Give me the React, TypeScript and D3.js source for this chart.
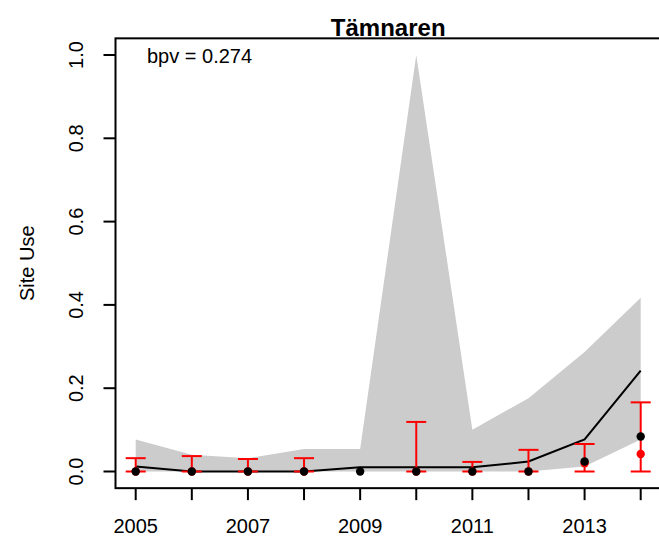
import React from "react";
import * as d3 from "d3";

const years = [2005, 2006, 2007, 2008, 2009, 2010, 2011, 2012, 2013, 2014];
const bandUpper = [0.077, 0.04, 0.032, 0.054, 0.054, 1.0, 0.1, 0.176, 0.287, 0.417];
const bandLower = [0, 0, 0, 0, 0, 0, 0, 0, 0.012, 0.077];
const median = [0.012, 0, 0, 0, 0.01, 0.01, 0.01, 0.024, 0.077, 0.242];
const observed = [0, 0, 0, 0, 0, 0, 0, 0, 0.024, 0.084];
const redMean: (number | null)[] = [0, 0, 0, 0, null, 0, 0, 0, 0.02, 0.042];
const redLow: (number | null)[] = [0, 0, 0, 0, null, 0, 0, 0, 0, 0];
const redHigh: (number | null)[] = [0.032, 0.037, 0.03, 0.032, null, 0.119, 0.023, 0.052, 0.066, 0.166];
const yTicks = [0, 0.2, 0.4, 0.6, 0.8, 1.0];
const xTickLabels = [2005, 2007, 2009, 2011, 2013];
const title = "Tämnaren";
const bpvText = "bpv = 0.274";
const yLabel = "Site Use";

export default function App() {
  const W = 659, H = 536;
  const x = d3.scaleLinear().domain([2005, 2014]).range([135.7, 640.7]);
  const y = d3.scaleLinear().domain([0, 1]).range([471.5, 55]);
  const x0 = x(2005 - 0.36), x1 = x(2014 + 0.36);
  const y0 = y(-0.04), y1 = y(1.04);
  const font = "'Liberation Sans', Arial, Helvetica, sans-serif";

  const area = d3
    .area<number>()
    .x((_, i) => x(years[i]))
    .y0((_, i) => y(bandLower[i]))
    .y1((d) => y(d));
  const line = d3
    .line<number>()
    .x((_, i) => x(years[i]))
    .y((d) => y(d));

  return (
    <svg
      width={W}
      height={H}
      style={{ position: "absolute", left: 0, top: 0, background: "#fff" }}
      fontFamily={font}
    >
      <rect x={0} y={0} width={W} height={H} fill="#fff" />
      <path d={area(bandUpper) || ""} fill="#cccccc" stroke="none" />
      <path d={line(median) || ""} fill="none" stroke="#000" strokeWidth={2} />
      {years.map((yr, i) => {
        const lo = redLow[i], hi = redHigh[i];
        if (lo == null || hi == null) return null;
        const cx = x(yr);
        return (
          <g key={"eb" + yr} stroke="#ff0000" strokeWidth={2}>
            <line x1={cx} x2={cx} y1={y(lo)} y2={y(hi)} />
            <line x1={cx - 10} x2={cx + 10} y1={y(hi)} y2={y(hi)} />
            <line x1={cx - 10} x2={cx + 10} y1={y(lo)} y2={y(lo)} />
          </g>
        );
      })}
      {years.map((yr, i) =>
        redMean[i] == null ? null : (
          <circle key={"rm" + yr} cx={x(yr)} cy={y(redMean[i] as number)} r={4.2} fill="#ff0000" />
        )
      )}
      {years.map((yr, i) => (
        <circle key={"ob" + yr} cx={x(yr)} cy={y(observed[i])} r={4.2} fill="#000" />
      ))}
      <rect x={x0} y={y1} width={x1 - x0} height={y0 - y1} fill="none" stroke="#000" strokeWidth={2} />
      <g stroke="#000" strokeWidth={2}>
        {years.map((yr) => (
          <line key={"xt" + yr} x1={x(yr)} x2={x(yr)} y1={y0} y2={y0 + 12} />
        ))}
        {yTicks.map((t) => (
          <line key={"yt" + t} x1={x0} x2={x0 - 12} y1={y(t)} y2={y(t)} />
        ))}
      </g>
      {xTickLabels.map((yr) => (
        <text key={"xl" + yr} x={x(yr)} y={533} fontSize={20} textAnchor="middle" fill="#000">
          {yr}
        </text>
      ))}
      {yTicks.map((t) => (
        <text
          key={"yl" + t}
          transform={`translate(83,${y(t)}) rotate(-90)`}
          fontSize={20}
          textAnchor="middle"
          fill="#000"
        >
          {t.toFixed(1)}
        </text>
      ))}
      <text transform={`translate(34,${(y0 + y1) / 2}) rotate(-90)`} fontSize={20} textAnchor="middle" fill="#000">
        {yLabel}
      </text>
      <text x={(x0 + x1) / 2} y={36} fontSize={24} fontWeight="bold" textAnchor="middle" fill="#000">
        {title}
      </text>
      <text x={147} y={63} fontSize={20} fill="#000">
        {bpvText}
      </text>
    </svg>
  );
}
